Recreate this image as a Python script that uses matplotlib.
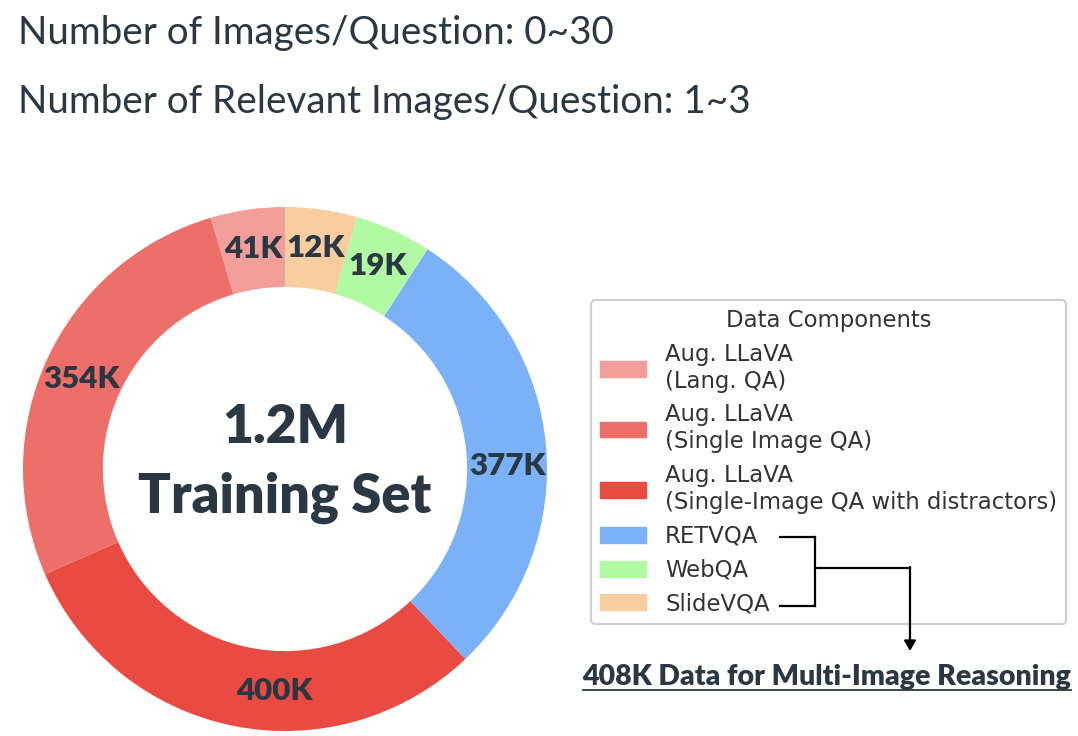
import numpy as np
import matplotlib
matplotlib.use('Agg')
import matplotlib.pyplot as plt
from matplotlib.lines import Line2D
from matplotlib.patches import FancyArrowPatch

W, H = 1078, 736

# data
components = ['Aug. LLaVA\n(Lang. QA)',
              'Aug. LLaVA\n(Single Image QA)',
              'Aug. LLaVA\n(Single-Image QA with distractors)',
              'RETVQA', 'WebQA', 'SlideVQA']
counts_k = [41, 354, 400, 377, 19, 12]
# wedge sizes as drawn (small parts are shown enlarged in the picture)
wedge_sizes = [60, 354, 400, 377, 62, 58]
colors = ['#f29e9b', '#ed6f69', '#e94a41', '#7ab1f7', '#b2f9a3', '#f7ce9f']
# small nudges of the value labels along the ring (degrees)
label_shift = [0, 1, 8.6, -4.5, 0, 0]

dark = '#2b3742'
plt.rcParams['font.family'] = ['Lato', 'DejaVu Sans']

def px(x, y):
    return (x / W, 1 - y / H)

fig = plt.figure(figsize=(W / 100, H / 100), dpi=100)

# header lines
fig.text(*px(18, 44), 'Number of Images/Question: 0~30', fontsize=27.8,
         color=dark, ha='left', va='baseline')
fig.text(*px(18, 113), 'Number of Relevant Images/Question: 1~3', fontsize=27.8,
         color=dark, ha='left', va='baseline')

# donut
cx, cy, R = 285, 469, 262
ax = fig.add_axes([(cx - R) / W, (H - cy - R) / H, 2 * R / W, 2 * R / H])
wedges, _ = ax.pie(wedge_sizes, colors=colors, startangle=90, counterclock=True,
                   radius=1.0, wedgeprops=dict(width=0.305, linewidth=0))
ax.set_xlim(-1, 1)
ax.set_ylim(-1, 1)
ax.set_aspect('equal')
ax.axis('off')

for w, c, s in zip(wedges, counts_k, label_shift):
    ang = np.deg2rad((w.theta1 + w.theta2) / 2 + s)
    ax.text(0.85 * np.cos(ang), 0.85 * np.sin(ang), f'{c}K', ha='center',
            va='center', fontsize=22.5, fontweight='heavy', color=dark)

ax.text(0, 0.16, '1.2M', ha='center', va='center', fontsize=38.5,
        fontweight='heavy', color=dark)
ax.text(0, -0.11, 'Training Set', ha='center', va='center', fontsize=39,
        fontweight='heavy', color=dark)

# legend
handles = [plt.Rectangle((0, 0), 1, 1, color=c) for c in colors]
leg = fig.legend(handles, components, loc='upper left',
                 bbox_to_anchor=px(591, 300), borderaxespad=0,
                 title='Data Components',
                 prop={'family': 'DejaVu Sans', 'size': 16.4},
                 title_fontproperties={'family': 'DejaVu Sans', 'size': 16.4},
                 handlelength=2.0, handleheight=0.7, handletextpad=0.85,
                 labelspacing=0.47, borderpad=0.4, fancybox=True,
                 edgecolor='#cfcfcf', framealpha=1)
leg.get_frame().set_linewidth(1.5)
for t in leg.get_texts():
    t.set_color('#333333')
    t.set_linespacing(1.22)
leg.get_title().set_color('#333333')

# bracket joining the multi-image sets
lw = 1.6
for xs, ys in [([780, 815], [537, 537]), ([780, 815], [606, 606]),
               ([815, 815], [537, 606]), ([815, 910], [568, 568])]:
    p = [px(x, y) for x, y in zip(xs, ys)]
    fig.add_artist(Line2D([p[0][0], p[1][0]], [p[0][1], p[1][1]],
                          transform=fig.transFigure, color='black', lw=lw,
                          zorder=10))
arr = FancyArrowPatch(px(910, 567), px(910, 651), transform=fig.transFigure,
                      arrowstyle='-|>,head_length=6,head_width=3.5',
                      color='black', lw=lw, shrinkA=0, shrinkB=0, zorder=10)
fig.add_artist(arr)

t = fig.text(*px(827, 685), '408K Data for Multi-Image Reasoning', fontsize=20.5,
             fontweight='heavy', color=dark, ha='center', va='baseline')
fig.canvas.draw()
bb = t.get_window_extent().transformed(fig.transFigure.inverted())
uy = 1 - 690 / H
fig.add_artist(Line2D([bb.x0, bb.x1], [uy, uy], transform=fig.transFigure,
                      color=dark, lw=1.3))

fig.savefig('out.png', dpi=100)
